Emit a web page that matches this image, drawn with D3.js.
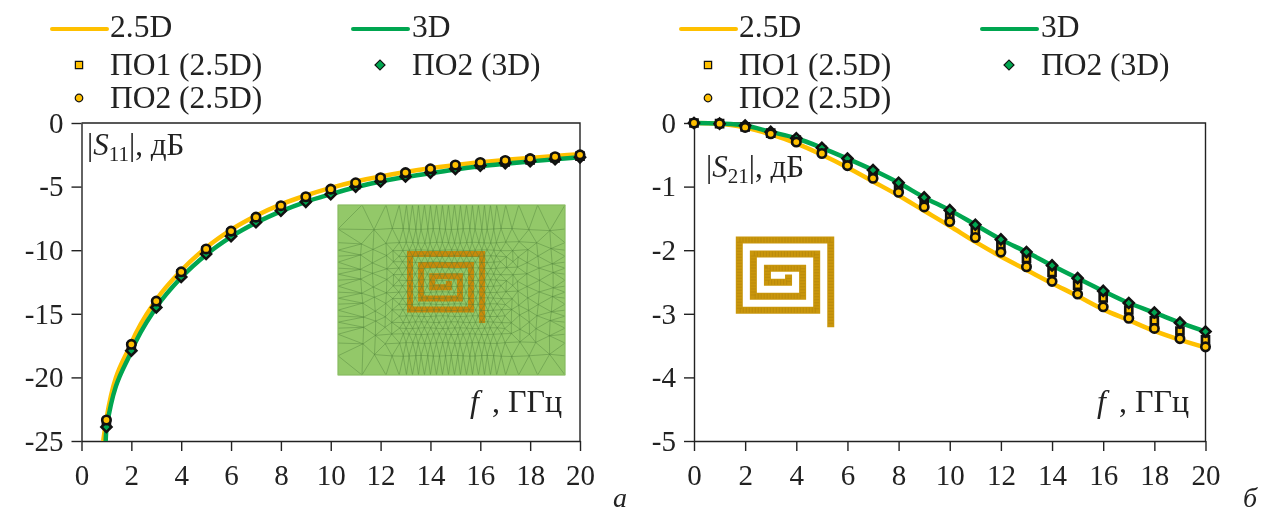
<!DOCTYPE html>
<html>
<head>
<meta charset="utf-8">
<script src="https://cdn.jsdelivr.net/npm/d3@7"></script>
<style>
  html, body { margin: 0; padding: 0; background: #fff; overflow: hidden; }
  svg { display: block; font-family: "Liberation Serif", serif; fill: #222; filter: blur(0.35px); }
  .domain, .tick line { stroke: #222; stroke-width: 1.4; }
</style>
</head>
<body>
<svg id="chart" width="1273" height="513"></svg>
<script>
const freqs = d3.range(1, 21);
const freqsFull = d3.range(0, 21);

// |S11|, left panel
const s11Line25 = [-23.3, -17.3, -13.9, -11.6, -9.8, -8.4, -7.3, -6.4, -5.7, -5.1, -4.6, -4.2, -3.85, -3.55, -3.3, -3.08, -2.9, -2.75, -2.6, -2.45];
const s11Line3 = [-24, -17.95, -14.5, -12.15, -10.35, -8.95, -7.85, -6.95, -6.2, -5.6, -5.05, -4.6, -4.25, -3.95, -3.65, -3.4, -3.2, -3.02, -2.85, -2.7];
const s11Po125 = [-23.6, -17.6, -14.2, -11.85, -10.05, -8.65, -7.55, -6.65, -5.95, -5.35, -4.85, -4.4, -4.05, -3.75, -3.45, -3.25, -3.05, -2.9, -2.75, -2.6];
const s11Po225 = [-23.35, -17.4, -14.0, -11.7, -9.9, -8.5, -7.4, -6.5, -5.8, -5.2, -4.7, -4.3, -3.9, -3.6, -3.3, -3.1, -2.95, -2.8, -2.65, -2.5];
const s11Po23 = [-23.9, -17.9, -14.5, -12.1, -10.3, -8.9, -7.8, -6.9, -6.2, -5.6, -5.0, -4.6, -4.2, -3.9, -3.6, -3.35, -3.15, -3.0, -2.85, -2.7];
// where the two curves leave the bottom of the plot
const s11Exit = [[0.87, -25], [0.97, -25]];

// |S21|, right panel
const s21Line25 = [0, -0.01, -0.07, -0.18, -0.32, -0.5, -0.7, -0.92, -1.14, -1.38, -1.62, -1.87, -2.1, -2.31, -2.52, -2.72, -2.93, -3.1, -3.27, -3.41, -3.53];
const s21Line3 = [0, -0.01, -0.04, -0.14, -0.24, -0.39, -0.56, -0.74, -0.94, -1.17, -1.37, -1.6, -1.83, -2.03, -2.24, -2.44, -2.64, -2.83, -2.98, -3.14, -3.28];
const s21Po125 = [0, -0.01, -0.06, -0.16, -0.27, -0.43, -0.61, -0.8, -1.01, -1.24, -1.46, -1.7, -1.93, -2.13, -2.35, -2.55, -2.75, -2.94, -3.11, -3.27, -3.41];
const s21Po225 = [0, -0.01, -0.07, -0.17, -0.3, -0.48, -0.67, -0.87, -1.09, -1.32, -1.55, -1.8, -2.03, -2.26, -2.49, -2.69, -2.89, -3.07, -3.23, -3.39, -3.52];
const s21Po23 = [0, -0.01, -0.04, -0.14, -0.24, -0.39, -0.56, -0.74, -0.94, -1.17, -1.37, -1.6, -1.83, -2.03, -2.24, -2.44, -2.64, -2.83, -2.98, -3.14, -3.28];

const xTicks = d3.range(0, 21, 2);
const s11Ticks = [0, -5, -10, -15, -20, -25];
const s21Ticks = [0, -1, -2, -3, -4, -5];

// spiral centre line, in units of one turn spacing
const spiral = [[6.5, 5.95], [6.5, 0], [0, 0], [0, 5], [5.5, 5], [5.5, 1], [1, 1], [1, 4], [4.5, 4], [4.5, 2], [2, 2], [2, 3], [3.5, 3], [3.5, 2.7]];

const yellow = '#FFC000';
const green = '#00A650';
const svg = d3.select('#chart');

const square = d3.symbol().type(d3.symbolSquare);
const circle = d3.symbol().type(d3.symbolCircle);
const diamond = d3.symbol().type(d3.symbolSquare);

function marker(g, kind, x, y, scale, sw) {
  let path, fill, rot = 0;
  if (kind === 'square') { path = square.size(50 * scale)(); fill = yellow; }
  if (kind === 'circle') { path = circle.size(56 * scale)(); fill = yellow; }
  if (kind === 'diamond') { path = diamond.size(50 * scale)(); fill = green; rot = 45; }
  g.append('path')
    .attr('d', path)
    .attr('transform', `translate(${x},${y}) rotate(${rot})`)
    .attr('fill', fill)
    .attr('stroke', '#111')
    .attr('stroke-width', sw);
}

function legend(x0) {
  const g = svg.append('g').attr('transform', `translate(${x0},0)`);
  const label = (x, y, s) => g.append('text').attr('x', x).attr('y', y).attr('font-size', 31.5).text(s);
  const swatch = (x, color) => g.append('line')
    .attr('x1', x).attr('x2', x + 55).attr('y1', 29).attr('y2', 29)
    .attr('stroke', color).attr('stroke-width', 4).attr('stroke-linecap', 'round');
  swatch(0, yellow);
  label(58, 37, '2.5D');
  swatch(301, green);
  label(360, 37, '3D');
  marker(g, 'square', 27, 65, 1.05, 1.2);
  label(58, 75, 'ПО1 (2.5D)');
  marker(g, 'circle', 27, 98, 0.8, 1.2);
  label(58, 108, 'ПО2 (2.5D)');
  marker(g, 'diamond', 328, 65, 1, 1.2);
  label(360, 75, 'ПО2 (3D)');
}

function panel(o) {
  const x = d3.scaleLinear().domain([0, 20]).range(o.xRange);
  const y = d3.scaleLinear().domain(o.yDomain).range([123, 441]);
  const g = svg.append('g');

  const clipId = 'clip' + o.name;
  svg.append('clipPath').attr('id', clipId).append('rect')
    .attr('x', o.xRange[0] - 8).attr('y', 110)
    .attr('width', o.xRange[1] - o.xRange[0] + 16).attr('height', 331);

  const xAxis = d3.axisBottom(x).tickValues(xTicks).tickSize(10).tickSizeOuter(0).tickPadding(13);
  const yAxis = d3.axisLeft(y).tickValues(o.yTicks).tickFormat(d => String(d)).tickSize(10).tickSizeOuter(0).tickPadding(8);

  g.append('g').attr('transform', 'translate(0,441)').call(xAxis);
  g.append('g').attr('transform', `translate(${o.xRange[0]},0)`).call(yAxis);
  g.selectAll('.tick text').attr('font-size', 29).attr('font-family', '"Liberation Serif", serif').attr('fill', '#222');

  // top and right frame
  g.append('path')
    .attr('d', d3.line()([[o.xRange[0], y(o.yDomain[0])], [o.xRange[1], y(o.yDomain[0])], [o.xRange[1], y(o.yDomain[1])]]))
    .attr('fill', 'none').attr('stroke', '#222').attr('stroke-width', 1.4);

  if (o.inset) o.inset();

  const line = d3.line().curve(d3.curveMonotoneX).x(d => x(d[0])).y(d => y(d[1]));
  const plot = svg.append('g').attr('clip-path', `url(#${clipId})`);
  [[o.line25, yellow, o.exit && o.exit[0]], [o.line3, green, o.exit && o.exit[1]]].forEach(([vals, color, start]) => {
    const pts = vals.map((v, i) => [o.freqs[i], v]);
    if (start) pts.unshift(start);
    plot.append('path').attr('d', line(pts))
      .attr('fill', 'none').attr('stroke', color).attr('stroke-width', 4.5);
  });

  const marks = svg.append('g');
  [['square', o.po125], ['diamond', o.po23], ['circle', o.po225]].forEach(([kind, vals]) => {
    vals.forEach((v, i) => marker(marks, kind, x(o.freqs[i]), y(v), 1, 2.6));
  });
}

function drawSpiral(g, ox, oy, unit, width, color) {
  const line = d3.line().x(d => ox + d[0] * unit).y(d => oy + d[1] * unit);
  g.append('path').attr('d', line(spiral))
    .attr('fill', 'none').attr('stroke', color).attr('stroke-width', width)
    .attr('stroke-linejoin', 'miter').attr('stroke-linecap', 'square');
  return line;
}

function insetMesh() {
  const g = svg.append('g');
  const box = { x: 338, y: 205, w: 227, h: 170 };
  const core = { x0: 402, x1: 490, y0: 246, y1: 328 };
  g.append('rect').attr('x', box.x).attr('y', box.y).attr('width', box.w).attr('height', box.h).attr('fill', '#93C869');

  drawSpiral(g, 410, 254, 11.1, 6, '#C98A0A');

  // graded mesh nodes: fine around the spiral, coarse at the edge
  const graded = (a, b, lo, hi) => {
    const out = [];
    let p = a;
    while (p < b - 8) {
      out.push(p);
      const d = p < lo ? lo - p : p > hi ? p - hi : 0;
      p += Math.min(24, 6 + d * 0.45);
    }
    out.push(b);
    return out;
  };
  const rows = graded(box.y, box.y + box.h, core.y0, core.y1);
  const cols = graded(box.x, box.x + box.w, core.x0, core.x1);
  const pts = [];
  rows.forEach((yy, r) => cols.forEach((xx, c) => {
    const edgeR = r === 0 || r === rows.length - 1;
    const edgeC = c === 0 || c === cols.length - 1;
    const dx = c + 1 < cols.length ? (cols[c + 1] - xx) / 2 : 0;
    // small fixed wobble so the mesh does not look like a lattice
    const wob = edgeR || edgeC ? 0 : Math.sin(r * 12.9 + c * 78.2);
    const wob2 = edgeR || edgeC ? 0 : Math.sin(r * 39.3 + c * 17.7);
    const sx = xx + (r % 2 && !edgeR && !edgeC ? dx : 0) + wob * dx * 0.14;
    pts.push([sx, yy + wob2 * dx * 0.12]);
  }));
  const delaunay = d3.Delaunay.from(pts);
  g.append('path').attr('d', delaunay.render())
    .attr('fill', 'none').attr('stroke', '#4E7F3A').attr('stroke-width', 0.6).attr('stroke-opacity', 0.7);
  g.append('rect').attr('x', box.x).attr('y', box.y).attr('width', box.w).attr('height', box.h)
    .attr('fill', 'none').attr('stroke', '#93C869').attr('stroke-width', 1);
}

function insetPlain() {
  const g = svg.append('g');
  const line = drawSpiral(g, 739.3, 240, 14.07, 7, '#C9960C');
  g.append('path').attr('d', line(spiral))
    .attr('fill', 'none').attr('stroke', '#A87C08').attr('stroke-width', 5)
    .attr('stroke-dasharray', '1 2').attr('stroke-opacity', 0.45);
}

// mixed-style annotations
function axisLabel(x, y, sub) {
  const t = svg.append('text').attr('x', x).attr('y', y).attr('font-size', 31);
  t.append('tspan').text('|');
  t.append('tspan').attr('font-style', 'italic').text('S');
  t.append('tspan').attr('font-size', 21).attr('dy', 6).text(sub);
  t.append('tspan').attr('dy', -6).text('|, дБ');
}
function freqLabel(x, y) {
  const t = svg.append('text').attr('x', x).attr('y', y).attr('font-size', 32);
  t.append('tspan').attr('font-style', 'italic').text('f');
  t.append('tspan').attr('dx', 5).text(' , ГГц');
}

legend(52);
legend(681);

panel({ name: 'a', xRange: [81.5, 580], yDomain: [0, -25], yTicks: s11Ticks, freqs: freqs,
  line25: s11Line25, line3: s11Line3, po125: s11Po125, po225: s11Po225, po23: s11Po23, exit: s11Exit, inset: insetMesh });
panel({ name: 'b', xRange: [694, 1205.5], yDomain: [0, -5], yTicks: s21Ticks, freqs: freqsFull,
  line25: s21Line25, line3: s21Line3, po125: s21Po125, po225: s21Po225, po23: s21Po23, inset: insetPlain });

axisLabel(87, 155, '11');
axisLabel(706, 177, '21');
freqLabel(470, 412);
freqLabel(1097, 412);

svg.append('text').attr('x', 613).attr('y', 507).attr('font-size', 28).attr('font-style', 'italic').text('а');
svg.append('text').attr('x', 1243).attr('y', 507).attr('font-size', 28).attr('font-style', 'italic').text('б');
</script>
</body>
</html>
